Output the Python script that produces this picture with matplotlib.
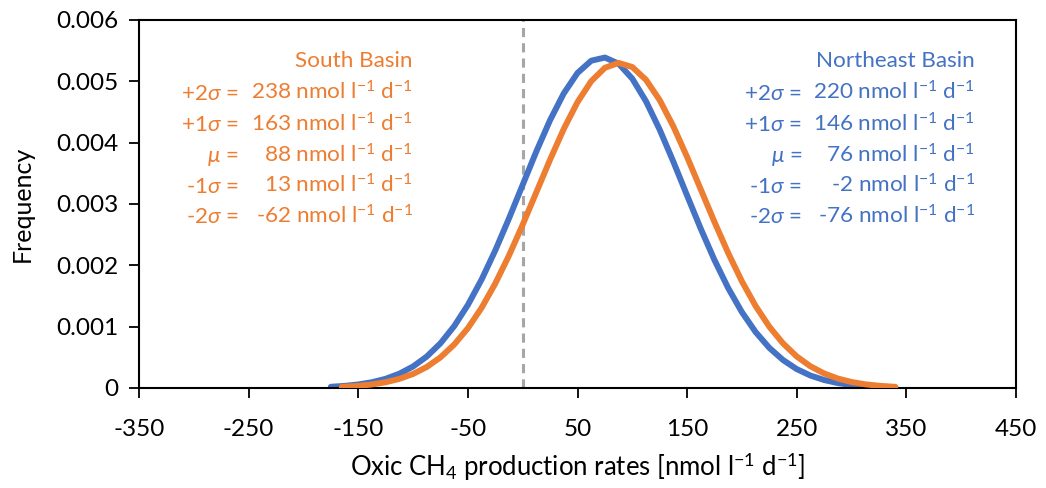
import matplotlib
matplotlib.use("Agg")
import matplotlib.pyplot as plt

plt.rcParams['font.family'] = ['Lato', 'DejaVu Sans']
plt.rcParams['mathtext.fontset'] = 'custom'
plt.rcParams['mathtext.rm'] = 'Lato'
plt.rcParams['mathtext.it'] = 'Lato:italic'
plt.rcParams['axes.unicode_minus'] = False

BLUE = '#4472C4'
ORANGE = '#ED7D31'

# curve readings (x in nmol l-1 d-1, y = frequency)
ne_x = [-175, -162.5, -150, -137.5, -125, -112.5, -100, -87.5, -75, -62.5,
        -50, -37.5, -25, -12.5, 0, 12.5, 25, 37.5, 50, 62.5, 75, 87.5, 100,
        112.5, 125, 137.5, 150, 162.5, 175, 187.5, 200, 212.5, 225, 237.5,
        250, 262.5, 275, 287.5, 300, 312.5, 320]
ne_y = [0.0000196, 0.0000341, 0.0000575, 0.0000943, 0.000150, 0.000233,
        0.000351, 0.000513, 0.000729, 0.001008, 0.001354, 0.001768, 0.002243,
        0.002765, 0.003313, 0.003859, 0.004368, 0.004804, 0.005136, 0.005336,
        0.005388, 0.005288, 0.005043, 0.004674, 0.004211, 0.003687, 0.003137,
        0.002594, 0.002084, 0.001628, 0.001236, 0.000912, 0.000654, 0.000456,
        0.000308, 0.000203, 0.000130, 0.0000807, 0.0000488, 0.0000287,
        0.0000205]

south_x = [-165, -150, -137.5, -125, -112.5, -100, -87.5, -75, -62.5, -50,
           -37.5, -25, -12.5, 0, 12.5, 25, 37.5, 50, 62.5, 75, 87.5, 100,
           112.5, 125, 137.5, 150, 162.5, 175, 187.5, 200, 212.5, 225, 237.5,
           250, 262.5, 275, 287.5, 300, 312.5, 325, 340]
south_y = [0.0000179, 0.0000345, 0.0000577, 0.0000940, 0.000149, 0.000229,
           0.000343, 0.000500, 0.000708, 0.000975, 0.001307, 0.001704,
           0.002160, 0.002663, 0.003193, 0.003724, 0.004225, 0.004661,
           0.005002, 0.005221, 0.005300, 0.005233, 0.005024, 0.004693,
           0.004263, 0.003766, 0.003236, 0.002705, 0.002199, 0.001738,
           0.001336, 0.000999, 0.000727, 0.000514, 0.000354, 0.000237,
           0.000154, 0.0000976, 0.0000600, 0.0000360, 0.0000187]

stat_labels = [r'+2$\sigma$ =', r'+1$\sigma$ =', r'$\mu$ =', r'-1$\sigma$ =', r'-2$\sigma$ =']
south_vals = [238, 163, 88, 13, -62]
ne_vals = [220, 146, 76, -2, -76]
unit = r' nmol l$^{-1}$ d$^{-1}$'

fig = plt.figure(figsize=(10.46, 4.88), dpi=100)
ax = fig.add_axes([139 / 1046, 100 / 488, 877 / 1046, 368 / 488])

ax.axvline(0, color='#A6A6A6', lw=2.2, ls=(0, (3, 2)), zorder=1)
ax.plot(ne_x, ne_y, color=BLUE, lw=4.3, solid_capstyle='round', zorder=2)
ax.plot(south_x, south_y, color=ORANGE, lw=4.3, solid_capstyle='round', zorder=3)

ax.set_xlim(-350, 450)
ax.set_ylim(0, 0.006)
ax.set_xticks(range(-350, 451, 100))
ax.set_yticks([0, 0.001, 0.002, 0.003, 0.004, 0.005, 0.006])
ax.set_yticklabels(['0', '0.001', '0.002', '0.003', '0.004', '0.005', '0.006'])
ax.tick_params(labelsize=17.5, length=7, width=1.3, direction='out', color='black')
ax.tick_params(axis='x', pad=15)
ax.tick_params(axis='y', pad=8)
for s in ax.spines.values():
    s.set_linewidth(1.5)

ax.set_xlabel('Oxic CH$_4$ production rates [nmol l$^{-1}$ d$^{-1}$]', fontsize=18.5, labelpad=8)
ax.set_ylabel('Frequency', fontsize=18, labelpad=16)

rows_y = [0.783, 0.698, 0.614, 0.530, 0.448]
fs = 16.2


def stat_block(title, vals, x_eq, x_right, color):
    ax.text(x_right, 0.872, title, transform=ax.transAxes, ha='right',
            va='baseline', fontsize=fs, color=color)
    for lab, v, y in zip(stat_labels, vals, rows_y):
        ax.text(x_eq, y, lab, transform=ax.transAxes, ha='right',
                va='baseline', fontsize=fs, color=color)
        ax.text(x_right, y, f'{v}' + unit, transform=ax.transAxes, ha='right',
                va='baseline', fontsize=fs, color=color)


stat_block('South Basin', south_vals, 0.114, 0.3124, ORANGE)
stat_block('Northeast Basin', ne_vals, 0.756, 0.9533, BLUE)

fig.savefig('out.png', dpi=100)
